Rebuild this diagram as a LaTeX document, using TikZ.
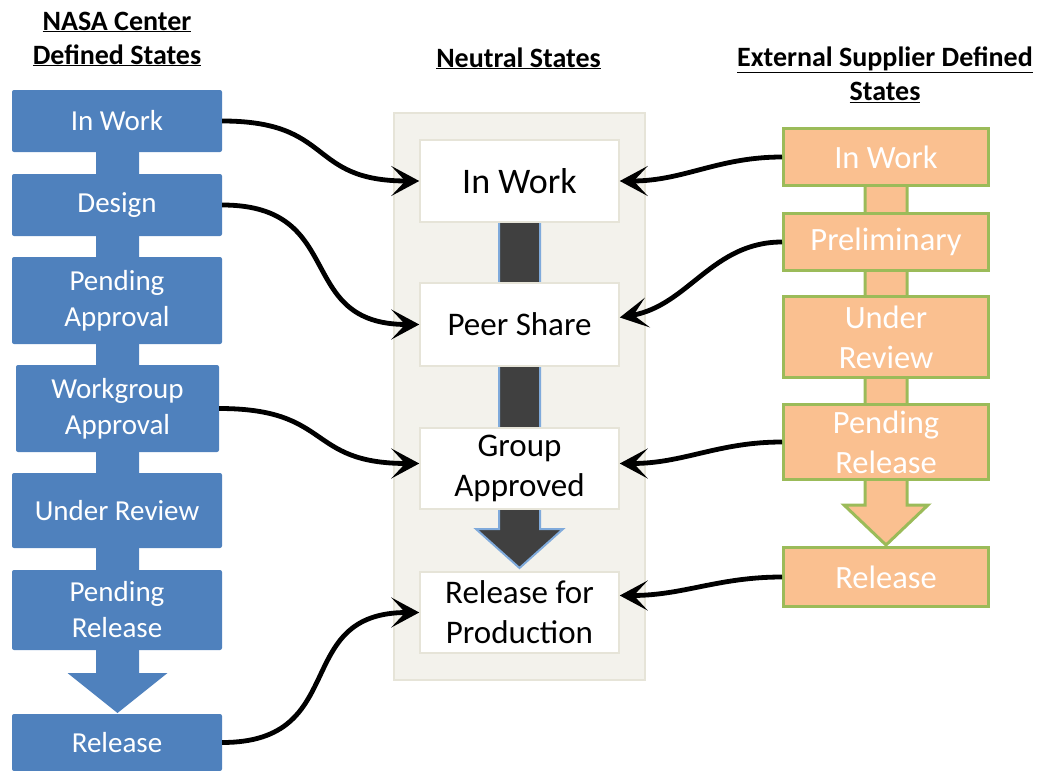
\documentclass[tikz,border=0pt]{standalone}
\usepackage{fontspec}
\setmainfont{Carlito}
\usepackage{xcolor}
\usepackage{tikz}
\usetikzlibrary{arrows.meta}
\definecolor{nasa}{HTML}{4F81BD}
\definecolor{supp}{HTML}{FAC090}
\definecolor{rim}{HTML}{9BBB59}
\definecolor{panel}{HTML}{F3F2EC}
\definecolor{panelrim}{HTML}{E6E4D8}
\definecolor{flow}{HTML}{404040}
\definecolor{edge}{HTML}{7FAADB}

\begin{document}
\begin{tikzpicture}[x=1pt,y=-1pt,line join=miter,
  head/.style={font=\bfseries\fontsize{28}{34}\selectfont,align=center,inner sep=0pt},
  nasabox/.style={fill=nasa,text=white,minimum width=210pt,inner sep=0pt,align=center,rounded corners=2pt,font=\fontsize{29}{36}\selectfont},
  neutbox/.style={fill=white,draw=panelrim,line width=1.5pt,minimum width=199pt,inner sep=0pt,align=center,font=\fontsize{33}{40}\selectfont},
  suppbox/.style={fill=supp,draw=rim,line width=3pt,text=white,minimum width=205pt,inner sep=0pt,align=center,font=\fontsize{32.5}{40}\selectfont},
  link/.style={line width=4.8pt,-{Stealth[length=28pt,width=30pt,inset=14pt]}}]
\useasboundingbox (0,0) rectangle (1037,771);
% headings
\node[head] (hnasa) at (117,39) {\underline{NASA Center}\\\underline{Defined States}};
\node[head,anchor=base] (hneut) at (518.5,67) {\underline{Neutral States}};
\node[head] (hsupp) at (885,75) {\underline{External Supplier Defined}\\\underline{States}};
% NASA column
\fill[nasa] (96,121) -- (139,121) -- (139,673) -- (167.5,673) -- (117.5,713) -- (67.5,673) -- (96,673) -- cycle;
\node[nasabox,minimum height=62pt] (nwork) at (117,121) {In Work};
\node[nasabox,minimum height=62pt] (ndesign) at (117,205) {Design};
\node[nasabox,minimum height=87pt] (npend) at (117,300.5) {Pending\\Approval};
\node[nasabox,minimum height=87pt,minimum width=203pt] (ngroup) at (117.5,408.5) {Workgroup\\Approval};
\node[nasabox,minimum height=75pt] (nreview) at (117,510.5) {Under Review};
\node[nasabox,minimum height=80pt] (npendrel) at (117,610) {Pending\\Release};
\node[nasabox,minimum height=57pt] (nrel) at (117,742.5) {Release};
% neutral column
\filldraw[fill=panel,draw=panelrim,line width=1.5pt] (394,113) rectangle (645,680);
\filldraw[fill=flow,draw=edge,line width=2pt] (499,181) -- (540,181) -- (540,529) -- (563,529) -- (519.5,568) -- (476,529) -- (499,529) -- cycle;
\node[neutbox,minimum height=82pt,font=\fontsize{36}{43}\selectfont] (pwork) at (519.5,181) {In Work};
\node[neutbox,minimum height=83pt] (ppeer) at (519.5,324.5) {Peer Share};
\node[neutbox,minimum height=81pt] (pgroup) at (519.5,468.5) {Group\\Approved};
\node[neutbox,minimum height=81pt] (prel) at (519.5,612.5) {Release for\\Production};
% supplier column
\filldraw[fill=supp,draw=rim,line width=3pt] (865,157) -- (907,157) -- (907,505) -- (928,505) -- (886,545) -- (844,505) -- (865,505) -- cycle;
\node[suppbox,minimum height=57pt] (swork) at (886,157) {In Work};
\node[suppbox,minimum height=57pt] (sprelim) at (886,242) {Preliminary};
\node[suppbox,minimum height=81pt] (sreview) at (886,337) {Under\\Review};
\node[suppbox,minimum height=75pt] (spend) at (886,442) {Pending\\Release};
\node[suppbox,minimum height=59pt] (srel) at (886,577) {Release};
% mappings to the neutral states
\draw[link] (nwork.east) to[out=0,in=180,looseness=1.4] (pwork.west);
\draw[link] (ndesign.east) to[out=0,in=180,looseness=1.4] (ppeer.west);
\draw[link] (ngroup.east) to[out=0,in=180,looseness=1.4] ([yshift=5pt]pgroup.west);
\draw[link] (nrel.east) to[out=0,in=180,looseness=1.4] (prel.west);
\draw[link] (swork.west) to[out=180,in=0] (pwork.east);
\draw[link] (sprelim.west) to[out=180,in=10] ([yshift=7pt]ppeer.east);
\draw[link] (spend.west) to[out=180,in=0] ([yshift=5pt]pgroup.east);
\draw[link] (srel.west) to[out=180,in=0] ([yshift=17pt]prel.east);
\end{tikzpicture}
\end{document}
